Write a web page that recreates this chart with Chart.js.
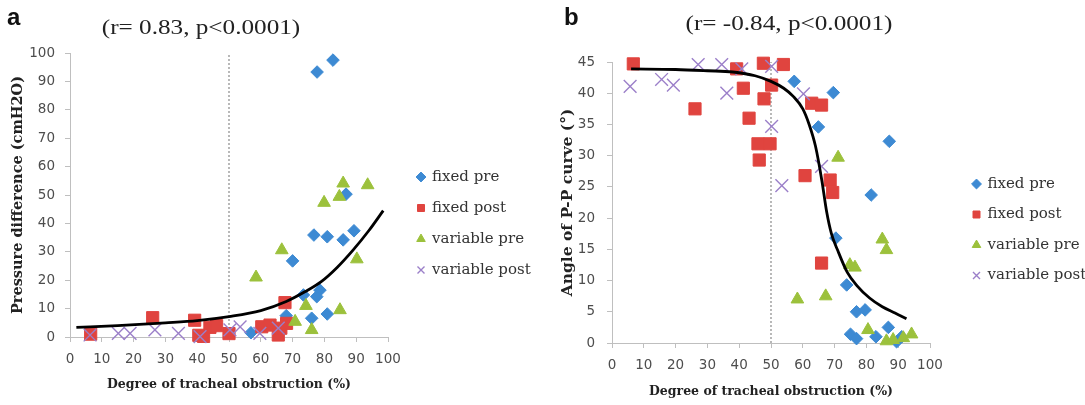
<!DOCTYPE html>
<html><head><meta charset="utf-8">
<script src="https://cdn.jsdelivr.net/npm/chart.js@4.4.0/dist/chart.umd.min.js"></script>
<style>
html,body{margin:0;padding:0;background:#fff;overflow:hidden;width:1085px;height:405px;}
#wrap{position:relative;width:1085px;height:405px;overflow:hidden;background:#fff;}
canvas{position:absolute;top:0;}
.lbl{position:absolute;font-family:"Liberation Sans",Arial,sans-serif;font-weight:bold;font-size:24px;color:#111;line-height:1;}
.ttl{position:absolute;width:300px;text-align:center;font-family:"Liberation Serif","Times New Roman",serif;font-size:21px;color:#222;line-height:1;transform:scaleX(1.2);white-space:nowrap;}
</style></head><body>
<div id="wrap">
<canvas id="ca" width="545" height="405" style="left:0px"></canvas>
<canvas id="cb" width="552" height="405" style="left:543px"></canvas>
<div class="lbl" style="left:7px;top:5px">a</div>
<div class="lbl" style="left:564px;top:5px">b</div>
<div class="ttl" style="left:51px;top:17px">(r= 0.83, p&lt;0.0001)</div>
<div class="ttl" style="left:639px;top:13px">(r= -0.84, p&lt;0.0001)</div>
</div>
<script>
// ---------- Panel a : pressure difference ----------
const aFixedPreX  = [77.7, 82.7, 86.8, 76.7, 80.9, 85.9, 89.3, 70.0, 78.6, 77.6, 73.4, 76.0, 80.9, 68.0, 56.9];
const aFixedPreY  = [93.3, 97.5, 50.3, 35.9, 35.3, 34.2, 37.4, 26.8, 16.5, 14.2, 14.8, 6.6, 8.1, 7.5, 1.5];
const aFixedPostX = [6.5, 26.0, 39.2, 40.5, 42.0, 44.0, 46.1, 50.0, 60.3, 62.9, 65.5, 66.3, 68.1, 67.6];
const aFixedPostY = [1.0, 6.8, 5.9, 0.6, 0.2, 3.4, 4.0, 1.2, 3.6, 4.2, 0.7, 3.1, 4.8, 12.1];
const aVarPreX    = [85.9, 93.6, 84.7, 79.9, 66.6, 90.2, 58.5, 74.2, 84.9, 70.8, 76.0];
const aVarPreY    = [54.1, 53.5, 49.4, 47.3, 30.6, 27.4, 21.0, 11.0, 9.5, 5.4, 2.5];
const aVarPostX   = [6.3, 15.2, 18.9, 26.7, 34.1, 40.9, 50.3, 53.5, 59.7, 65.5];
const aVarPostY   = [0.7, 1.3, 1.3, 2.5, 1.3, 0.1, 2.5, 3.6, 1.3, 3.1];
const aTrendX     = [2, 15, 30, 40, 50, 60, 68, 74, 79, 84, 89, 94, 98.5];
const aTrendY     = [3.4, 4.0, 5.0, 5.8, 7.2, 9.3, 12.5, 16, 19.5, 24.5, 30.6, 37.5, 44.5];
const aCutX = [50, 50];
const aCutY = [0, 100];
const aTitle = '(r= 0.83, p<0.0001)';
const aYLabel = 'Pressure difference (cmH2O)';

// ---------- Panel b : angle of P-P curve ----------
const bFixedPreX  = [57.3, 69.6, 64.9, 87.2, 81.5, 70.4, 73.8, 76.9, 79.6, 75.0, 76.9, 83.0, 86.9, 89.5, 91.1];
const bFixedPreY  = [41.9, 40.1, 34.6, 32.3, 23.7, 16.8, 9.3, 5.0, 5.3, 1.4, 0.7, 1.0, 2.5, 0.2, 1.0];
const bFixedPostX = [6.7, 39.2, 47.6, 53.9, 41.3, 50.2, 47.8, 26.1, 43.1, 45.9, 49.7, 46.3, 62.8, 65.9, 60.7, 68.6, 69.4, 65.9];
const bFixedPostY = [44.7, 43.9, 44.8, 44.6, 40.8, 41.3, 39.1, 37.5, 36.0, 31.9, 31.9, 29.3, 38.4, 38.1, 26.8, 26.1, 24.1, 12.8];
const bVarPreX    = [71.1, 85.0, 86.3, 74.8, 76.4, 58.3, 67.2, 80.5, 86.3, 88.4, 91.6, 94.2];
const bVarPreY    = [29.7, 16.6, 14.9, 12.5, 12.1, 7.0, 7.5, 2.1, 0.3, 0.5, 0.8, 1.4];
const bVarPostX   = [5.7, 15.6, 19.3, 27.1, 34.5, 40.8, 36.1, 50.2, 50.2, 53.4, 60.2, 65.9];
const bVarPostY   = [41.1, 42.2, 41.3, 44.6, 44.6, 43.9, 40.0, 44.3, 34.7, 25.2, 39.9, 28.3];
const bTrendX     = [6, 20, 30, 38, 45, 50, 54, 57, 60, 62, 64, 66, 67.5, 69, 71, 74, 77, 81, 85, 89, 92.6];
const bTrendY     = [43.9, 43.8, 43.6, 43.4, 42.8, 41.9, 40.8, 39.5, 37.5, 35, 31.5, 26, 21, 17.5, 14.8, 11.3, 9.2, 7.2, 5.8, 4.8, 3.9];
const bCutX = [50, 50];
const bCutY = [0, 45];
const bTitle = '(r= -0.84, p<0.0001)';
const bYLabel = 'Angle of P-P curve (°)';

const xLabel = 'Degree of tracheal obstruction (%)';
const seriesNames = ['fixed pre', 'fixed post', 'variable pre', 'variable post'];
const colors = ['#3d8ad3', '#e0443f', '#9cc13c', '#9b7fc9'];

const pts = (xs, ys) => xs.map((x, i) => ({x: x, y: ys[i]}));

function build(canvasId, d, geo) {
  const ptBase = {clip: false, showLine: false};
  const datasets = [
    {label: 'trend', data: pts(d.trendX, d.trendY), showLine: true, borderColor: '#000', borderWidth: 2.8,
     pointRadius: 0, cubicInterpolationMode: 'monotone', order: 0, clip: false},
    {label: 'cut', data: pts(d.cutX, d.cutY), showLine: true, borderColor: '#8a8a8a', borderWidth: 1.2,
     borderDash: [2, 2], pointRadius: 0, order: 10, clip: false},
    Object.assign({label: seriesNames[0], data: pts(d.fpX, d.fpY), pointStyle: 'rectRot', pointRadius: 6.3,
     backgroundColor: colors[0], borderColor: colors[0], borderWidth: 1, order: 5}, ptBase),
    Object.assign({label: seriesNames[1], data: pts(d.fqX, d.fqY), pointStyle: 'rect', pointRadius: 8.6,
     backgroundColor: colors[1], borderColor: colors[1], borderWidth: 1, order: 4}, ptBase),
    Object.assign({label: seriesNames[2], data: pts(d.vpX, d.vpY), pointStyle: 'triangle', pointRadius: 7.3,
     backgroundColor: colors[2], borderColor: colors[2], borderWidth: 1, order: 3}, ptBase),
    Object.assign({label: seriesNames[3], data: pts(d.vqX, d.vqY), pointStyle: 'crossRot', pointRadius: 9,
     backgroundColor: colors[3], borderColor: colors[3], borderWidth: 1.4, order: 2}, ptBase)
  ];
  const tickFont = {family: 'DejaVu Sans', size: 13.5};
  const titleFont = {family: 'DejaVu Serif', size: 12.5, weight: 'bold'};
  return new Chart(document.getElementById(canvasId), {
    type: 'scatter',
    data: {datasets: datasets},
    options: {
      responsive: false, animation: false, devicePixelRatio: 1,
      layout: {padding: {top: geo.top, left: 0, right: geo.right, bottom: 0}},
      plugins: {
        tooltip: {enabled: false},
        title: {display: false},
        legend: {
          display: true, position: 'right', align: 'start', maxWidth: 136,
          title: {display: true, text: '', font: {size: 10}, padding: {top: geo.legTitle, bottom: 0}},
          labels: {
            usePointStyle: true, boxWidth: 7, boxHeight: 7, padding: geo.legPad,
            font: {family: 'DejaVu Serif', size: 15}, color: '#333',
            filter: (item) => item.datasetIndex >= 2,
            sort: (p, q) => p.datasetIndex - q.datasetIndex
          }
        }
      },
      scales: {
        x: {
          type: 'linear', min: 0, max: 100,
          ticks: {stepSize: 10, font: tickFont, color: '#4d4d4d', padding: 9, maxRotation: 0, autoSkip: false},
          grid: {drawOnChartArea: false, drawTicks: true, tickLength: 5, color: '#bfbfbf', tickColor: '#bfbfbf'},
          border: {color: '#bfbfbf', width: 1},
          title: {display: true, text: xLabel, font: titleFont, color: '#222', padding: {top: 0, bottom: geo.xTitlePad}},
          afterFit: (s) => { s.height = geo.xH; }
        },
        y: {
          type: 'linear', min: 0, max: d.yMax,
          ticks: {stepSize: d.yStep, font: tickFont, color: '#4d4d4d', padding: geo.yTickPad, autoSkip: false},
          grid: {drawOnChartArea: false, drawTicks: true, tickLength: 5, color: '#bfbfbf', tickColor: '#bfbfbf'},
          border: {color: '#bfbfbf', width: 1},
          title: {display: true, text: d.yLabel, font: {family: 'DejaVu Serif', size: geo.yTitleSize, weight: 'bold'}, color: '#222',
                  padding: {top: geo.yTitlePad, bottom: 0}},
          afterFit: (s) => { s.width = geo.yW; }
        },
        yR: {
          type: 'linear', position: 'right', display: true,
          ticks: {display: false}, grid: {display: false, drawTicks: false}, border: {display: false},
          title: {display: false},
          afterFit: (s) => { s.width = geo.gap; }
        }
      }
    }
  });
}

build('ca', {
  trendX: aTrendX, trendY: aTrendY, cutX: aCutX, cutY: aCutY,
  fpX: aFixedPreX, fpY: aFixedPreY, fqX: aFixedPostX, fqY: aFixedPostY,
  vpX: aVarPreX, vpY: aVarPreY, vqX: aVarPostX, vqY: aVarPostY,
  yMax: 100, yStep: 10, yLabel: aYLabel
}, {top: 53, right: 7.5, xH: 68, yW: 70, gap: 13.5, legTitle: 88.5, legPad: 16, xTitlePad: 12.5, yTickPad: 10, yTitlePad: 10, yTitleSize: 14.5});

build('cb', {
  trendX: bTrendX, trendY: bTrendY, cutX: bCutX, cutY: bCutY,
  fpX: bFixedPreX, fpY: bFixedPreY, fqX: bFixedPostX, fqY: bFixedPostY,
  vpX: bVarPreX, vpY: bVarPreY, vqX: bVarPostX, vqY: bVarPostY,
  yMax: 45, yStep: 5, yLabel: bYLabel
}, {top: 62, right: 1.5, xH: 62, yW: 69, gap: 27.5, legTitle: 87, legPad: 15.5, xTitlePad: 5.5, yTickPad: 12, yTitlePad: 16, yTitleSize: 15.5});
</script>
</body></html>
